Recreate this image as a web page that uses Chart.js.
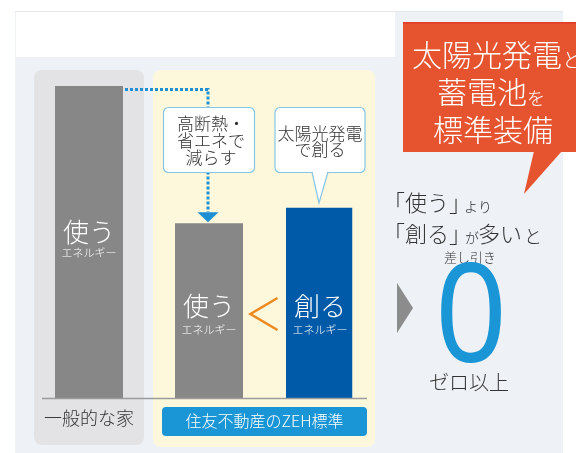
<!DOCTYPE html>
<html lang="ja">
<head>
<meta charset="utf-8">
<script src="https://cdn.jsdelivr.net/npm/chart.js@4.4.1/dist/chart.umd.min.js"></script>
<style>
  html, body { margin: 0; padding: 0; background: #ffffff; }
  canvas { display: block; }
</style>
</head>
<body>
<canvas id="zeh" width="576" height="453"></canvas>
<script>
// Categories and energy amounts (general house = 100)
const categories = ['一般的な家', '住友不動産のZEH標準'];
const useEnergy = [100, 56];
const createEnergy = [null, 61];

// Captions inside the bars
const useWord = '使う';
const createWord = '創る';
const energyWord = 'エネルギー';

// Annotation texts
const reduceNote = ['高断熱・', '省エネで', '減らす'];
const solarNote = ['太陽光発電', 'で創る'];
const calloutLines = [
  [['太陽光発電', 30], ['と', 20]],
  [['蓄電池', 30], ['を', 18]],
  [['標準装備', 30]]
];
const compareLines = [
  [['「使う」', 22, -7], ['より', 14]],
  [['「創る」', 22, -6], ['が', 14, -1], ['多い', 22, 2], ['と', 18]]
];
const diffWord = '差し引き';
const zeroWord = '0';
const zeroCaption = 'ゼロ以上';

const JP = '"Noto Sans CJK JP", "Noto Sans", sans-serif';
const W = 300; // light face
const GRAY_BAR = '#878787';
const BLUE_BAR = '#005aa8';
const SKY = '#1a96d6';

function rr(ctx, x, y, w, h, r) {
  ctx.beginPath();
  ctx.moveTo(x + r, y);
  ctx.lineTo(x + w - r, y);
  ctx.arcTo(x + w, y, x + w, y + r, r);
  ctx.lineTo(x + w, y + h - r);
  ctx.arcTo(x + w, y + h, x + w - r, y + h, r);
  ctx.lineTo(x + r, y + h);
  ctx.arcTo(x, y + h, x, y + h - r, r);
  ctx.lineTo(x, y + r);
  ctx.arcTo(x, y, x + r, y, r);
  ctx.closePath();
}

function segText(ctx, segs, x, y, color) {
  ctx.fillStyle = color;
  ctx.textAlign = 'left';
  ctx.textBaseline = 'ideographic';
  let cx = x;
  segs.forEach(([t, s, gap]) => {
    ctx.font = `${W} ${s}px ${JP}`;
    ctx.fillText(t, cx, y);
    cx += ctx.measureText(t).width + (gap || 0);
  });
}

const backdrop = {
  id: 'backdrop',
  beforeDraw(chart) {
    const ctx = chart.ctx;
    const xs = chart.scales.x;
    const x0 = xs.getPixelForValue(0);
    const x1 = xs.getPixelForValue(1);
    ctx.save();
    // outer panel
    ctx.fillStyle = '#eef2f6';
    ctx.fillRect(15, 11, 548, 442);
    ctx.fillStyle = '#e4e7ea';
    ctx.fillRect(15, 11, 548, 1);
    ctx.fillStyle = '#ffffff';
    ctx.fillRect(16, 12, 379, 45);
    // category panels
    ctx.fillStyle = '#e3e3e5';
    rr(ctx, x0 - 55, 70, 110, 375, 8);
    ctx.fill();
    ctx.fillStyle = '#fdf8dc';
    rr(ctx, x1 - 111.5, 70, 222, 377, 8);
    ctx.fill();
    // blue label plate under the ZEH category
    ctx.fillStyle = SKY;
    rr(ctx, x1 - 102.5, 407, 205, 29, 4);
    ctx.fill();
    ctx.restore();
  },
  afterDatasetsDraw(chart) {
    const ctx = chart.ctx;
    const area = chart.chartArea;
    const xs = chart.scales.x;
    const x1 = xs.getPixelForValue(1);
    const useBars = chart.getDatasetMeta(0).data;
    const makeBars = chart.getDatasetMeta(1).data;
    ctx.save();

    // baseline
    ctx.strokeStyle = '#9b9b9b';
    ctx.lineWidth = 1.5;
    ctx.beginPath();
    ctx.moveTo(42, area.bottom + 0.5);
    ctx.lineTo(367, area.bottom + 0.5);
    ctx.stroke();

    // captions in bars
    const caption = (bar, word, wy, ey) => {
      ctx.fillStyle = '#ffffff';
      ctx.textAlign = 'center';
      ctx.textBaseline = 'middle';
      ctx.font = `${W} 26px ${JP}`;
      ctx.fillText(word, bar.x, wy);
      ctx.font = `${W} 11px ${JP}`;
      ctx.fillText(energyWord, bar.x, ey);
    };
    caption(useBars[0], useWord, 232, 253);
    caption(useBars[1], useWord, 306, 330);
    caption(makeBars[1], createWord, 306, 330);

    // dotted arrow from the general house down to the ZEH use bar
    const b0 = useBars[0], b1 = useBars[1];
    const ax = b1.x - 1;
    const b0right = b0.x + b0.width / 2;
    ctx.strokeStyle = '#1e8fd2';
    ctx.lineWidth = 3;
    ctx.setLineDash([3, 2]);
    ctx.beginPath();
    ctx.moveTo(b0right + 2, 89.5);
    ctx.lineTo(ax, 89.5);
    ctx.lineTo(ax, b1.y - 11);
    ctx.stroke();
    ctx.setLineDash([]);
    ctx.fillStyle = '#1e8fd2';
    ctx.beginPath();
    ctx.moveTo(ax - 10.5, b1.y - 11);
    ctx.lineTo(ax + 10.5, b1.y - 11);
    ctx.lineTo(ax, b1.y - 1);
    ctx.closePath();
    ctx.fill();

    // note boxes
    ctx.lineWidth = 1.2;
    ctx.strokeStyle = '#86c6e6';
    ctx.fillStyle = '#ffffff';
    rr(ctx, b1.x - 45.5, 107.5, 91, 65, 5);
    ctx.fill(); ctx.stroke();

    const m1 = makeBars[1];
    // speech pointer towards the created-energy bar
    ctx.beginPath();
    ctx.moveTo(m1.x - 8, 172);
    ctx.lineTo(m1.x - 1, 203);
    ctx.lineTo(m1.x + 8, 172);
    ctx.fillStyle = '#ffffff';
    ctx.fill(); ctx.stroke();
    rr(ctx, m1.x - 45, 107.5, 90, 65, 5);
    ctx.fill(); ctx.stroke();
    ctx.fillStyle = '#ffffff';
    ctx.fillRect(m1.x - 7, 170, 14, 3.5);

    ctx.fillStyle = '#333333';
    ctx.textAlign = 'center';
    ctx.textBaseline = 'middle';
    ctx.font = `${W} 17px ${JP}`;
    [123.5, 140.5, 158].forEach((y, i) => ctx.fillText(reduceNote[i], b1.x + 2, y));
    [134, 150].forEach((y, i) => ctx.fillText(solarNote[i], m1.x, y));

    // "<" between the two ZEH bars
    ctx.strokeStyle = '#ec8a1f';
    ctx.lineWidth = 2.6;
    ctx.lineJoin = 'miter';
    ctx.beginPath();
    ctx.moveTo(x1 + 13, 298);
    ctx.lineTo(x1 - 14, 314);
    ctx.lineTo(x1 + 13, 330);
    ctx.stroke();

    ctx.restore();
  },
  afterDraw(chart) {
    const ctx = chart.ctx;
    ctx.save();

    // right-hand pointer
    ctx.fillStyle = '#8c8c8c';
    ctx.beginPath();
    ctx.moveTo(397, 283);
    ctx.lineTo(413, 308);
    ctx.lineTo(397, 333);
    ctx.closePath();
    ctx.fill();

    // comparison text
    segText(ctx, compareLines[0], 383, 214, '#333333');
    segText(ctx, compareLines[1], 383, 245, '#333333');

    ctx.fillStyle = '#333333';
    ctx.textAlign = 'center';
    ctx.textBaseline = 'middle';
    ctx.font = `${W} 13px ${JP}`;
    ctx.fillText(diffWord, 470, 257);
    ctx.font = `${W} 20px ${JP}`;
    ctx.fillText(zeroCaption, 469, 382);

    // big zero
    ctx.save();
    ctx.translate(471, 362);
    ctx.scale(0.92, 1);
    ctx.fillStyle = SKY;
    ctx.textBaseline = 'alphabetic';
    ctx.font = `137px "Noto Sans", "DejaVu Sans", sans-serif`;
    ctx.fillText(zeroWord, 0, 0);
    ctx.restore();

    // orange callout
    ctx.fillStyle = '#e6532f';
    ctx.fillRect(403, 22, 173, 130);
    ctx.beginPath();
    ctx.moveTo(534, 151);
    ctx.lineTo(562, 151);
    ctx.lineTo(524, 194);
    ctx.closePath();
    ctx.fill();
    ctx.fillStyle = '#e23b2a';
    ctx.fillRect(403, 22, 173, 1.5);

    segText(ctx, calloutLines[0], 412, 70, '#ffffff');
    segText(ctx, calloutLines[1], 437, 107, '#ffffff');
    segText(ctx, calloutLines[2].map(s => [s[0], s[1], 0]), 433, 145, '#ffffff');

    ctx.restore();
  }
};

new Chart(document.getElementById('zeh'), {
  type: 'bar',
  data: {
    labels: categories,
    datasets: [
      { label: '使うエネルギー', data: useEnergy, backgroundColor: GRAY_BAR },
      { label: '創るエネルギー', data: createEnergy, backgroundColor: BLUE_BAR }
    ]
  },
  options: {
    responsive: false,
    animation: false,
    events: [],
    layout: { padding: { left: 1.25, right: 223.75, top: 86, bottom: 8.6 } },
    datasets: {
      bar: {
        skipNull: true,
        categoryPercentage: 1.265,
        barPercentage: 0.613,
        maxBarThickness: 68,
        borderWidth: 0
      }
    },
    plugins: { legend: { display: false }, tooltip: { enabled: false } },
    scales: {
      x: {
        offset: true,
        grid: { display: false, drawTicks: false },
        border: { display: false },
        ticks: {
          autoSkip: false,
          maxRotation: 0,
          padding: 9.2,
          color: (c) => c.index === 0 ? '#333333' : '#ffffff',
          font: (c) => c.index === 0
            ? { family: JP, size: 18, weight: W, lineHeight: 1.2 }
            : { family: JP, size: 16, weight: W, lineHeight: 1.75 }
        }
      },
      y: { display: false, min: 0, max: 100 }
    }
  },
  plugins: [backdrop]
});
</script>
</body>
</html>
